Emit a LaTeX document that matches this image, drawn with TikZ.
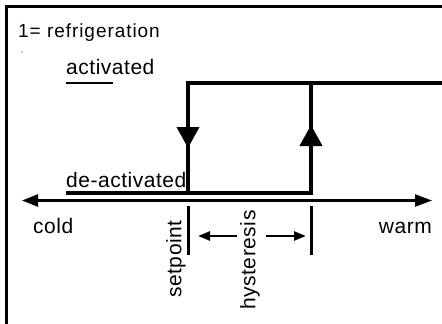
\documentclass[tikz,border=0pt]{standalone}
\usepackage{fontspec}
\setmainfont{Liberation Sans}
\usetikzlibrary{arrows.meta}

\tikzset{
  lbl/.style={font=\fontsize{21}{21}\selectfont\addfontfeatures{LetterSpace=2.5},inner sep=0pt},
  title/.style={font=\fontsize{19}{19}\selectfont\addfontfeatures{LetterSpace=5},inner sep=0pt},
  level/.style={line width=4pt},
  axis/.style={line width=2.5pt},
  tick/.style={line width=3pt},
}

\begin{document}
\begin{tikzpicture}[x=1pt,y=-1pt]
    \useasboundingbox (0,0) rectangle (442,324);
    \coordinate (F1) at (6.5,324);
    \coordinate (F2) at (6.5,6.5);
    \coordinate (F3) at (442,6.5);
    \draw[line width=3pt] (F1) -- (F2) -- (F3);

    \node[title,anchor=base west] (T) at (18,37) {1= refrigeration};
    \fill (22,52) circle (0.7);

    \node[lbl,anchor=base west] (ON) at (66,74) {activated};
    \coordinate (U1) at (66,83);
    \coordinate (U2) at (113,83);
    \draw[line width=2pt] (U1) -- (U2);
    \node[lbl,anchor=base west] (OFF) at (66,187) {de-activated};

    \coordinate (LS) at (66,193);
    \coordinate (LR) at (311,193);
    \coordinate (HR) at (311,83);
    \coordinate (HL) at (188,83);
    \coordinate (LL) at (188,193);
    \coordinate (HE) at (442,83);
    \coordinate (DT) at (188,148);
    \coordinate (UT) at (311,125);
    \draw[level] (LS) -- (LR) -- (HR);
    \draw[level] (LL) -- (HL) -- (HE);
    \draw[level,-{Triangle[length=21pt,width=22pt]}] (HL) -- (DT);
    \draw[level,-{Triangle[length=21pt,width=22pt]}] (LR) -- (UT);

    \coordinate (AL) at (22,200.5);
    \coordinate (AR) at (432,200.5);
    \draw[axis,{Triangle[length=16pt,width=12pt]}-{Triangle[length=17pt,width=12pt]}] (AL) -- (AR);
    \node[lbl,anchor=base west] (C) at (33,233) {cold};
    \node[lbl,anchor=base east] (W) at (432,233) {warm};

    \coordinate (S1) at (188,206);
    \coordinate (S2) at (188,255);
    \coordinate (S3) at (311,206);
    \coordinate (S4) at (311,255);
    \draw[tick] (S1) -- (S2);
    \draw[tick] (S3) -- (S4);
    \node[lbl,rotate=90] (SP) at (176,259) {setpoint};
    \node[lbl,rotate=90] (HY) at (250,260) {hysteresis};
    \coordinate (H1) at (237,236);
    \coordinate (H2) at (198,236);
    \coordinate (H3) at (266,236);
    \coordinate (H4) at (306,236);
    \draw[axis,-{Triangle[length=12pt,width=9pt]}] (H1) -- (H2);
    \draw[axis,-{Triangle[length=12pt,width=9pt]}] (H3) -- (H4);
\end{tikzpicture}
\end{document}
